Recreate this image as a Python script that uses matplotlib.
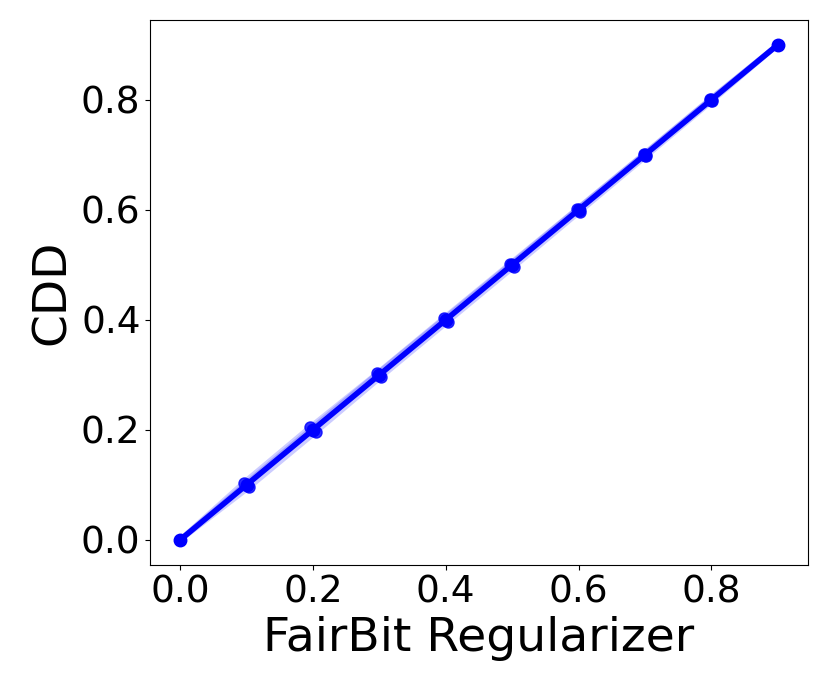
import matplotlib
matplotlib.use("Agg")
import matplotlib.pyplot as plt

# Regularizer values (x) and CDD (y)
reg = [0.0, 0.1, 0.2, 0.3, 0.4, 0.5, 0.6, 0.7, 0.8, 0.9]
cdd = [0.0, 0.1, 0.2, 0.3, 0.4, 0.5, 0.6, 0.7, 0.8, 0.9]

# faint repeated runs (slight deviations)
reg_a = [0.0, 0.096, 0.196, 0.297, 0.397, 0.497, 0.597, 0.698, 0.798, 0.9]
run_a = [0.0, 0.104, 0.205, 0.303, 0.403, 0.502, 0.601, 0.701, 0.801, 0.9]
reg_b = [0.0, 0.104, 0.204, 0.303, 0.403, 0.503, 0.602, 0.702, 0.801, 0.9]
run_b = [0.0, 0.096, 0.196, 0.297, 0.397, 0.497, 0.597, 0.698, 0.798, 0.9]
reg_c = [0.0, 0.1, 0.2, 0.3, 0.4, 0.5, 0.6, 0.7, 0.8, 0.9]
run_c = [0.0, 0.103, 0.204, 0.305, 0.404, 0.503, 0.603, 0.702, 0.802, 0.9]

fig = plt.figure(figsize=(8.3, 6.92), dpi=100)
ax = fig.add_axes([0.181, 0.184, 0.792, 0.787])

for xs, ys in ((reg_a, run_a), (reg_b, run_b), (reg_c, run_c)):
    ax.plot(xs, ys, color="blue", alpha=0.2, linewidth=4)
ax.plot(reg, cdd, color="blue", linewidth=4, marker="o", markersize=9)
for xs, ys in ((reg_a, run_a), (reg_b, run_b)):
    ax.plot(xs, ys, color="blue", linestyle="none", marker="o",
            markersize=8, alpha=0.8)

ax.set_xlabel("FairBit Regularizer", fontsize=34)
ax.set_ylabel("CDD", fontsize=34)
ax.tick_params(axis="both", labelsize=27)

fig.savefig("out.png", dpi=100)
